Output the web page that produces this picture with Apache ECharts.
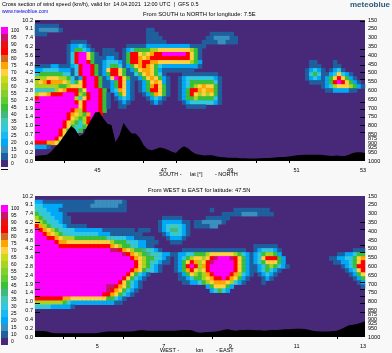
<!DOCTYPE html>
<html><head><meta charset="utf-8">
<style>html,body{margin:0;padding:0;background:#f8f8f8}#c{width:392px;height:353px}</style>
<script src="https://cdn.jsdelivr.net/npm/echarts@6/dist/echarts.min.js"></script>
</head><body><div id="c"></div>
<script>
// wind speed classes, 0 = calm ... j = strongest, cells ("col:levels", x~n~ = repeat)
const levelColors = ['#482878','#1f5f9e','#3a8fbf','#00a8f8','#18b8f0','#30c8e0','#40c8b8','#40b880','#38c038','#60cc30','#84d028','#a8d420','#c8dc14','#ffd040','#ffa500','#d2691e','#ff0000','#e81010','#c8146a','#ff00ff'];
const levelLabels = ['0','10','15','20','25','30','35','40','45','50','55','60','65','70','75','80','85','90','95','100'];
const northSouth = [
"","0:111111","0:1222221 28:11","0:111 28:111 44:111111","28:1111 43:11222211",
"9:1111 28:11111 42:111122111",
"8:133531 23:111113333333333311 41:11",
"8:1388531 17:111 22:1358888bbddddddddb81",
"8:15gjjd81 17:1111 22:18ggdbdeggjjjjjjgd81",
"8:15gjjd81 16:11331 22:18ggedeggggggggggd81",
"8:15gjjg81 16:1355531 22:18ggeggeeddddddddb83 69:11 75:1",
"0:11113311 8:135gjjg81 16:13588531 22:138deged853333333331 69:111 75:11",
"0:335555333 9:15gjjg81 16:13dggd81 23:138deed8311111111 68:13531 74:1351",
"0:588888855311 9:15gjjg831 16:138ggd81 24:158ded851 37:111111111 68:15851 73:135d531",
"0:bbbdddbb8531 10:13gjjg81 17:13djgd81 25:138ded831 36:13555555531 68:13531 72:138dgd831",
"0:bdegeeedb85311 9:58dgjjg81 18:138gd31 26:138ded31 33:1 36:13588888851 69:111 72:138gjgd831",
"0:bbbbbb88bddb 11:dgjjg81 18:138gd31 26:138egd81 36:1358bdedd81 72:135bdddb8311",
"0:56666bdegggdb 11:8djjjg8 19:35ed31 26:138ggd81 36:138ggedee81 73:11333311",
"0:bddegggjjjgb8gjjg81 20:38d31 27:138ed81 36:138gdbdbd81",
"0:gj~9~b6dgjjg81 20:13531 28:13531 36:1388b888851",
"0:j~10~gdgjjjg81 21:131 29:131 37:1355555531",
"0:j~11~dgjjjg81 21:11 38:11111",
"0:j~9~gebgjjjg8","0:j~8~gedb8ejjg","0:j~8~gdb8bgjg","0:j~7~gdb85bgg","0:j~7~gd8658d","0:j~6~gd8358",
"0:j~6~gd81","0:j~5~gd81","0:gggeed831","0:3331","","",""];
const westEast = [
"","0:33111111111111122222221","0:55333331111111222222211","0:65533311111111111111111 44:1 50:111111111",
"0:86553331 47:1111122221111","0:b86553311 32:11111 43:111111","0:db8655311 31:13333311 40:11222221",
"0:geb8655311111 31:13566531 40:111122","0:jgedb86555333333311111111 26:111 31:13577531",
"0:jjgedb865555555533311111111 32:1356531","0:jjjggedbbb88888888665553311111 33:13331",
"0:j~5~geed~11~b88865533111 34:111","0:j~6~g~13~edb88653311 55:111111",
"0:j~19~iigedb8876531 37:1~16~ 55:1355531 80:111",
"0:j~22~igedb87665331 35:13355888bddddddb8531 55:358bb83 76:1133588",
"0:j~24~gedb886531 35:1358bddbdgijjjigd831 55:35dggg83 74:1133558de",
"0:j~25~gdb865311 35:138dgebdgijjjjjgd831 55:358ddd83 75:113358dg",
"0:j~25~gdb8531 35:138gjgbegjjjjjjgd831 55:1358b8531 77:1358gg",
"0:j~24~ged86531 35:138egdbdgjjjjjjgd831 55:1358531 78:135dg",
"0:j~23~gd8531 36:138db8begjjjjgeb531 56:13531 79:138d",
"0:j~22~gd8531 36:113588bdeggjged831 57:131 80:138",
"0:j~21~gd8531 37:113358bdeeedb531 57:1 81:13",
"0:j~18~iiged8531 43:38ddd83 82:1","0:j~18~iged8531 44:35853","0:j~17~gged8531",
"0:g~7~eed~9~88531","0:b~7~853~11~11","0:5555333331","","","","","","",""];
const terrainNS = [.57,.61,.64,.72,1.06,1.59,2.05,2.73,3.37,3.98,3.6,2.8,3.03,3.98,4.73,5.53,5.57,4.81,4.24,4.09,2.16,2.92,4.32,3.67,3.11,3.11,2.65,1.78,1.33,1.21,1.36,1.52,1.44,1.29,1.06,.91,1.36,1.67,1.44,1.06,.8,.72,.61,.64,.64,.53,.45,.42,.38,.38,.38,.3,.3,.27,.27,.27,.3,.34,.34,.38,.42,.45,.45,.5,.57,.64,.68,.72,.72,.72,.72,.72,.64,.6,.57,.61,.57,.57,.72,.91,.98,.98,.91];
const terrainWE = [.68,.68,.68,.61,.49,.42,.42,.42,.42,.42,.42,.42,.42,.42,.42,.42,.49,.57,.61,.61,.61,.61,.61,.61,.61,.68,.76,.76,.72,.72,.72,.72,.72,.72,.72,.72,.76,.8,.8,.76,.57,.49,.53,.57,.6,.61,.72,.83,.87,.76,.72,.8,.8,.83,.8,.76,.76,.72,.76,.8,.8,.83,.87,.87,.91,.95,.95,.91,.83,.72,.64,.61,.61,.61,.68,.72,.87,1.1,1.33,1.4,1.48,1.63,1.78];
const heightLabels = ['0.0','0.2','0.4','0.7','1.0','1.4','1.9','2.4','2.8','3.4','4.2','4.8','5.6','6.2','7.4','9.1','10.2'];
const pressureLabels = {16:'150',15:'250',14:'300',13:'350',12:'400',11:'450',10:'500',9:'550',8:'600',7:'650',6:'700',5:'750',4:'800',3:'850',2.5:'875',2:'900',1.5:'925',1:'950',0.5:'975',0:'1000'};
const ticksNS = [15.9,12.65,11.86,10.83,10.04,9.24,6.63,5.83,5,4.05,3.22];
const ticksWE = [13.03,12.23,10.45,9.62,6.21,5.42,4.62,3.79,2.84];
const latLabels = ['45','47','49','51','53'];
const lonLabels = ['5','7','9','11','13'];
const labelCols = [15.5,32,48.5,65,81.5];
const tickColsNS = [7.2,27,35.2,55,63.2];
const tickColsWE = [7,10,22,44,75];

const F = 'Liberation Sans';
function parseRows(rows){
  const out=[];
  rows.forEach((row,r)=>{
    const cells={};
    row.split(' ').filter(Boolean).forEach(seg=>{
      const [c,s]=seg.split(':');
      const exp=s.replace(/(.)~(\d+)~/g,(m,a,n)=>a.repeat(+n));
      [...exp].forEach((ch,i)=>{cells[+c+i]=parseInt(ch,36);});
    });
    Object.keys(cells).forEach(c=>{ if(+c<83) out.push([+c,r,cells[c]]); });
  });
  return out;
}
const cols=Array.from({length:83},(_,i)=>i), rowsIdx=Array.from({length:35},(_,i)=>i);
const pieces=levelColors.map((c,i)=>({value:i,color:c,label:levelLabels[i]})).reverse();
function vm(si,top){return {type:'piecewise',seriesIndex:si,dimension:2,left:1,top:top,orient:'vertical',itemWidth:7,itemHeight:7,itemGap:0,itemSymbol:'rect',textGap:3,selectedMode:false,hoverLink:false,pieces:pieces,textStyle:{fontSize:5,color:'#000',fontFamily:F},padding:0};}
function catX(g){return {type:'category',gridIndex:g,data:cols,show:false};}
function catY(g){return {type:'category',gridIndex:g,data:rowsIdx,inverse:true,show:false};}
function valX(g,labels,ticks){return {type:'value',gridIndex:g,min:0,max:82,position:'bottom',splitLine:{show:false},axisLine:{show:false},
  axisTick:{show:true,customValues:ticks,length:2,lineStyle:{color:'#000'}},
  axisLabel:{show:true,customValues:labelCols,fontSize:5.5,color:'#000',fontFamily:F,margin:6,formatter:v=>labels[labelCols.indexOf(v)]||''}};}
// the inward pressure ticks are the axes' own ticks, drawn over the marks
function valYL(g,ticks){return {type:'value',gridIndex:g,min:0,max:16,interval:1,position:'left',z:30,splitLine:{show:false},axisLine:{show:false},
  axisTick:{show:true,inside:true,customValues:ticks,length:5,lineStyle:{color:'#000',width:1}},
  axisLabel:{fontSize:5.5,color:'#000',fontFamily:F,margin:2,formatter:v=>heightLabels[v]}};}
function valYR(g,ticks){return {type:'value',gridIndex:g,min:0,max:16,interval:0.5,position:'right',z:30,splitLine:{show:false},axisLine:{show:false},
  axisTick:{show:true,inside:true,customValues:ticks,length:5,lineStyle:{color:'#000',width:1}},
  axisLabel:{fontSize:5.5,color:'#000',fontFamily:F,margin:3,showMinLabel:true,showMaxLabel:true,hideOverlap:false,formatter:v=>pressureLabels[v]||''}};}
function heat(xi,yi,d){return {type:'heatmap',xAxisIndex:xi,yAxisIndex:yi,data:d,progressive:0,animation:false,emphasis:{disabled:true},itemStyle:{borderWidth:0}};}
function terrain(xi,yi,d){return {type:'line',xAxisIndex:xi,yAxisIndex:yi,data:d.map((v,i)=>[i,v]),showSymbol:false,silent:true,lineStyle:{width:0},areaStyle:{color:'#000',opacity:1},z:5,animation:false};}
function txt(x,y,t,o){return {type:'text',left:x,top:y,style:Object.assign({text:t,fontSize:5.5,fontFamily:F,fill:'#000'},o||{})};}
function bar(y){return {type:'rect',shape:{x:1,y:y,width:7,height:1},style:{fill:'#000'}};}
const chart=echarts.init(document.getElementById('c'),null,{renderer:'canvas'});
chart.setOption({
  animation:false,backgroundColor:'#f8f8f8',
  grid:[{left:35,width:330,top:20,height:141,show:true,backgroundColor:'#482878',borderWidth:0},
        {left:35,width:330,top:196,height:141,show:true,backgroundColor:'#482878',borderWidth:0}],
  xAxis:[catX(0),valX(0,latLabels,tickColsNS),catX(1),valX(1,lonLabels,tickColsWE)],
  yAxis:[catY(0),valYL(0,ticksNS),valYR(0,ticksNS),catY(1),valYL(1,ticksWE),valYR(1,ticksWE)],
  visualMap:[vm(0,27),vm(2,205)],
  series:[heat(0,0,parseRows(northSouth)),terrain(1,1,terrainNS),
          heat(2,3,parseRows(westEast)),terrain(3,4,terrainWE)],
  graphic:[
    txt(2,1,'Cross section of wind speed (km/h), valid for  14.04.2021  12:00 UTC  |  GFS 0.5'),
    txt(2,9,'www.meteoblue.com',{fill:'#0000dd',fontSize:5}),
    txt(350,1,'meteoblue',{fill:'#2b5a7a',fontSize:8,fontWeight:'bold',fontFamily:F}),
    txt(143,11,'From SOUTH to NORTH for longitude: 7.5E',{fontSize:5.8}),
    txt(148,187,'From WEST to EAST for latitude: 47.5N',{fontSize:5.8}),
    txt(159,171,'SOUTH -'),txt(190,171,'lat [\u00b0]'),txt(215,171,'- NORTH'),
    txt(160,347,'WEST -'),txt(196,347,'lon'),txt(216,347,'- EAST'),
    bar(63),bar(70),bar(169),bar(296),bar(303)
  ]
});
</script></body></html>
